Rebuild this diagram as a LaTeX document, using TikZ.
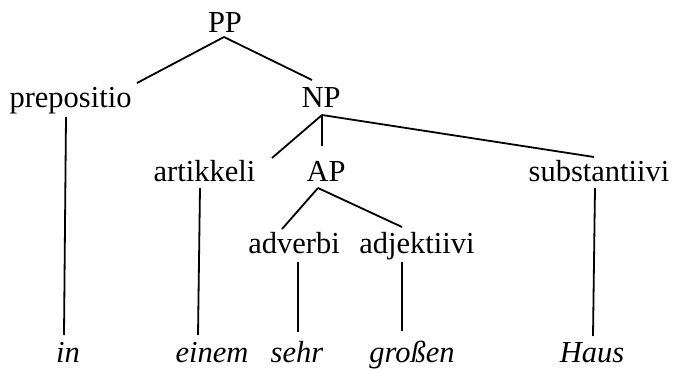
\documentclass[tikz,border=0pt]{standalone}
\usepackage{fontspec}
\setmainfont{Liberation Serif}
\begin{document}
\begin{tikzpicture}[x=1pt,y=-1pt,
  lbl/.style={inner sep=0pt,anchor=base,font=\fontsize{30.5}{36}\selectfont},
  wrd/.style={lbl,font=\fontsize{30.5}{36}\selectfont\itshape},
  edge/.style={line width=1.8pt}]
\useasboundingbox (0,0) rectangle (677,369);
\node[lbl] (PP) at (225,33) {PP};
\node[lbl] (prep) at (70.5,107) {prepositio};
\node[lbl] (NP) at (321,107) {NP};
\node[lbl] (art) at (204.5,181) {artikkeli};
\node[lbl] (AP) at (326,181) {AP};
\node[lbl] (subst) at (599,181) {substantiivi};
\node[lbl] (adv) at (294,253) {adverbi};
\node[lbl] (adj) at (417,253) {adjektiivi};
\node[wrd] (in) at (68,362) {in};
\node[wrd] (einem) at (212,362) {einem};
\node[wrd] (sehr) at (297,362) {sehr};
\node[wrd] (gross) at (412,362) {großen};
\node[wrd] (Haus) at (592,362) {Haus};
\draw[edge] ([shift={(-1,4)}]PP.base) -- ([shift={(66.5,-24)}]prep.base);
\draw[edge] ([shift={(-1,4)}]PP.base) -- ([shift={(-9,-27)}]NP.base);
\draw[edge] ([shift={(1,8)}]NP.base) -- ([shift={(67.5,-23)}]art.base);
\draw[edge] ([shift={(1,8)}]NP.base) -- ([shift={(-4,-35)}]AP.base);
\draw[edge] ([shift={(1,8)}]NP.base) -- ([shift={(-5,-24)}]subst.base);
\draw[edge] ([shift={(-4.5,10)}]prep.base) -- ([shift={(-4,-27)}]in.base);
\draw[edge] ([shift={(-4.5,7)}]art.base) -- ([shift={(-14,-27)}]einem.base);
\draw[edge] ([shift={(-8,7)}]AP.base) -- ([shift={(-12,-24)}]adv.base);
\draw[edge] ([shift={(-8,7)}]AP.base) -- ([shift={(-15,-26)}]adj.base);
\draw[edge] ([shift={(4,9)}]adv.base) -- ([shift={(1,-30)}]sehr.base);
\draw[edge] ([shift={(-15,9)}]adj.base) -- ([shift={(-10,-31)}]gross.base);
\draw[edge] ([shift={(-4,7)}]subst.base) -- ([shift={(1,-26)}]Haus.base);
\end{tikzpicture}
\end{document}
